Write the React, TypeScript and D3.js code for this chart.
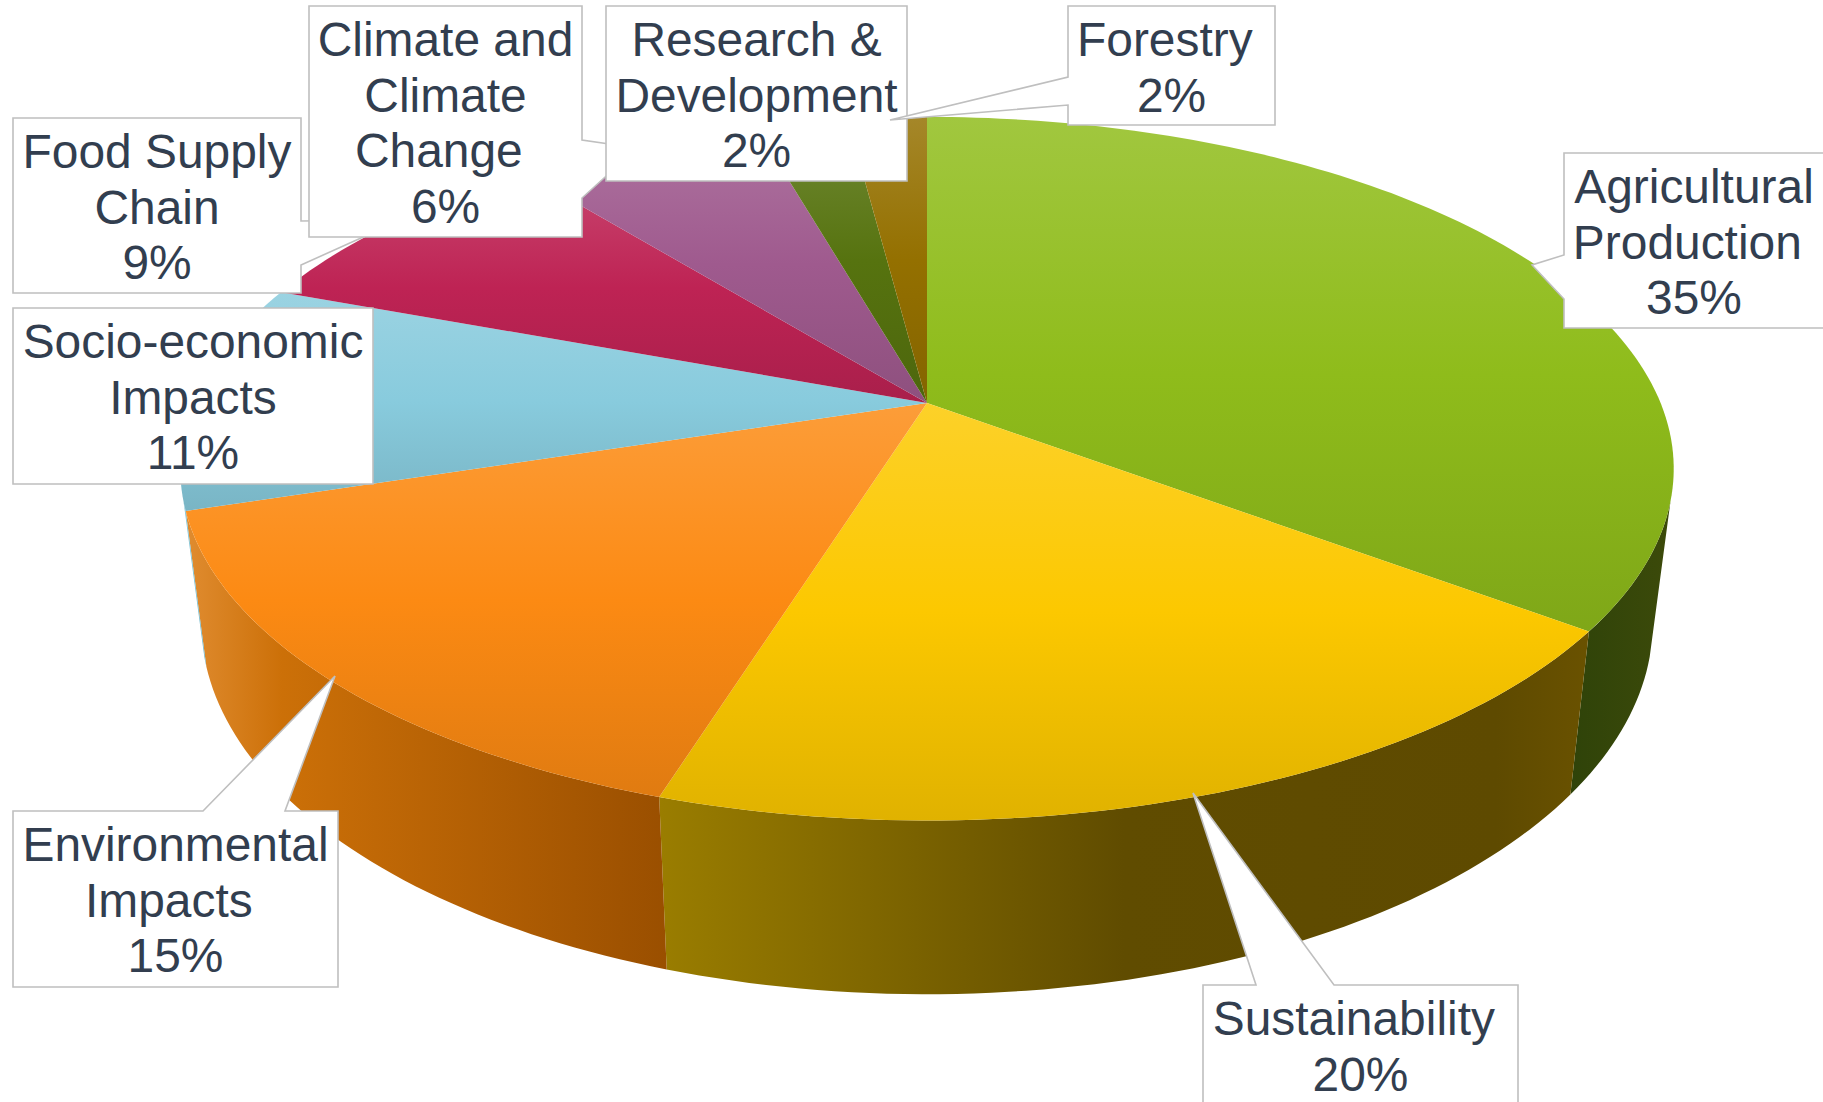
import React from 'react';
import * as d3 from 'd3';

// Share of each category, in percent (labels round them)
const categories = [
  'Agricultural\nProduction ',
  'Sustainability ',
  'Environmental\nImpacts ',
  'Socio-economic\nImpacts',
  'Food Supply\nChain',
  'Climate and\nClimate\nChange ',
  'Research &\nDevelopment',
  'Forestry ',
];
const values = [35.2, 19.65, 15.3, 10.5, 8.5, 6.4, 2.4, 2.05];
const colors = ['#8FBC1B', '#FCC800', '#FC8A13', '#88CBDD', '#BE2354', '#9F5A8E', '#56730F', '#947000'];

// wall gradients, left to right
const wallStops: Record<number, [number, string][]> = {
  0: [[0, '#2F4309'], [1, '#3C4A0A']],
  1: [[0, '#9A7D00'], [0.5, '#604C00'], [0.9, '#5E4A00'], [1, '#6A5200']],
  2: [[0, '#E08C30'], [0.2, '#CC7008'], [1, '#9A4F00']],
  3: [[0, '#82C6D8'], [1, '#6FB5C8']],
};

// callout boxes: x0, y0, x1, y1 in page pixels
const boxes = [
  [1564, 153, 1824, 328],
  [1203, 985, 1518, 1106],
  [13, 811, 338, 987],
  [13, 308, 373, 484],
  [13, 118, 301, 293],
  [309, 6, 582, 237],
  [606, 6, 907, 181],
  [1068, 6, 1275, 125],
];

// pointer wedges: side of the box, where it leaves the box, and the tip
const pointers: any[] = [
  { side: 'left', a: [1564, 255], b: [1564, 299], tip: [1532, 265] },
  { side: 'top', a: [1256, 985], b: [1334, 985], tip: [1193, 793] },
  { side: 'top', a: [203, 811], b: [285, 811], tip: [335, 676] },
  null,
  { side: 'right', a: [301, 221], b: [301, 265], tip: [401, 220] },
  { side: 'right', a: [582, 140], b: [582, 198], tip: [637, 148] },
  null,
  { side: 'left', a: [1068, 77], b: [1068, 105], tip: [890, 120] },
];

const width = 1823;
const height = 1102;
const cx = 927;
const cy = 403;
const A = 733.6;
const B = 339.5;
const k = 0.1867;
const fontSize = 47.9;
const lineGap = 55.6;

// perspective view of the pie disc
const project = (angle: number): [number, number] => {
  const u = Math.sin(angle);
  const v = -Math.cos(angle);
  const d = 1 - k * v;
  return [cx + (A * u) / d, cy + (B * v) / d];
};

// same point on the lower rim
const lower = ([x, y]: [number, number]): [number, number] => [cx + 0.972 * (x - cx), 1.057 * y + 127];

const arcAngles = (a0: number, a1: number) => {
  const n = Math.max(2, Math.ceil((a1 - a0) / 0.02));
  return d3.range(n + 1).map((i) => a0 + ((a1 - a0) * i) / n);
};

const closedLine = d3.line<[number, number]>().curve(d3.curveLinearClosed);

const calloutPath = (box: number[], p: any) => {
  const [x0, y0, x1, y1] = box;
  const pts: [number, number][] = [[x0, y0]];
  if (p && p.side === 'top') pts.push(p.a, p.tip, p.b);
  pts.push([x1, y0]);
  if (p && p.side === 'right') pts.push(p.a, p.tip, p.b);
  pts.push([x1, y1], [x0, y1]);
  if (p && p.side === 'left') pts.push(p.b, p.tip, p.a);
  return closedLine(pts) as string;
};

const App = () => {
  const pie = d3.pie<number>().sort(null).value((d) => d);
  const slices = pie(values);
  const visibleFrom = Math.acos(-0.275); // the wall's outline leaves the disc here

  return (
    <svg
      width={width}
      height={height}
      viewBox={`0 0 ${width} ${height}`}
      style={{ position: 'absolute', left: 0, top: 0, background: '#fff' }}
    >
      <defs>
        {colors.map((c, i) => (
          <linearGradient key={i} id={`top-${i}`} x1="0" y1="0" x2="0" y2="1">
            <stop offset="0" stopColor={d3.interpolateRgb(c, '#fff')(0.16)} />
            <stop offset="0.5" stopColor={c} />
            <stop offset="1" stopColor={d3.interpolateRgb(c, '#000')(0.11)} />
          </linearGradient>
        ))}
        {Object.entries(wallStops).map(([i, stops]) => (
          <linearGradient key={i} id={`wall-${i}`} x1="0" y1="0" x2="1" y2="0">
            {stops.map(([o, c]) => (
              <stop key={o} offset={o} stopColor={c} />
            ))}
          </linearGradient>
        ))}
      </defs>

      {/* rim, only the part facing the viewer */}
      {slices.slice(0, 4).map((s, i) => {
        const a0 = Math.max(s.startAngle, visibleFrom);
        const a1 = Math.min(s.endAngle, 2 * Math.PI - visibleFrom);
        if (a1 <= a0) return null;
        const rim = arcAngles(a0, a1).map(project);
        const d = closedLine([...rim, ...rim.map(lower).reverse()]) as string;
        return <path key={i} d={d} fill={`url(#wall-${i})`} />;
      })}

      {/* disc */}
      {slices.map((s, i) => {
        const rim = arcAngles(s.startAngle, s.endAngle).map(project);
        const d = closedLine([[cx, cy] as [number, number], ...rim]) as string;
        return <path key={i} d={d} fill={`url(#top-${i})`} />;
      })}

      {/* callouts, later ones lie over earlier ones */}
      {categories.map((name, i) => {
        const box = boxes[i];
        const lines = [...name.split('\n'), `${Math.round(values[i])}%`];
        const mid = (box[0] + box[2]) / 2;
        return (
          <g key={i}>
            <path d={calloutPath(box, pointers[i])} fill="#fff" stroke="#BFBFBF" strokeWidth={1.6} />
            <text
              fontFamily="'Liberation Sans', Arial, sans-serif"
              fontSize={fontSize}
              fill="#323E4F"
              textAnchor="middle"
              style={{ whiteSpace: 'pre' }}
            >
              {lines.map((t, j) => (
                <tspan key={j} x={mid} y={box[1] + 50 + j * lineGap}>
                  {t}
                </tspan>
              ))}
            </text>
          </g>
        );
      })}
    </svg>
  );
};

export default App;
